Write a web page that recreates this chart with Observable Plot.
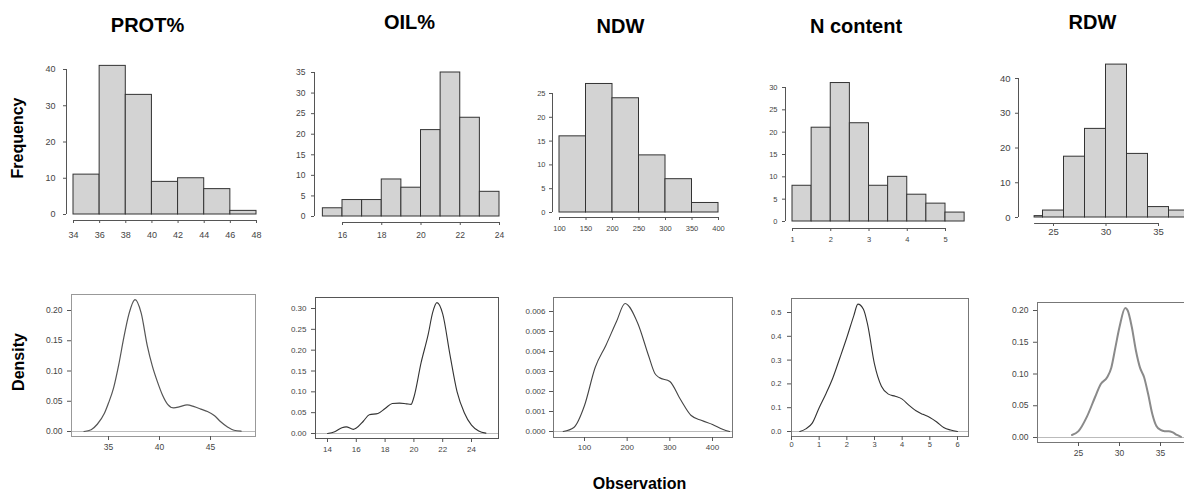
<!DOCTYPE html>
<html><head><meta charset="utf-8">
<script src="https://cdn.jsdelivr.net/npm/d3@7"></script>
<script src="https://cdn.jsdelivr.net/npm/@observablehq/plot@0.6"></script>
<style>
body{margin:0;background:#fff;}
#root{position:relative;width:1184px;height:491px;overflow:hidden;font-family:"Liberation Sans",Arial,sans-serif;background:#fff;}
.t{position:absolute;font-weight:bold;line-height:1;white-space:nowrap;color:#000;}
#root svg{position:absolute;overflow:visible;background:transparent;}
</style></head><body><div id="root"></div><script>
// ---------- titles ----------
const titles = ["PROT%", "OIL%", "NDW", "N content", "RDW"];
const rowLabels = ["Frequency", "Density"];
const xLabel = "Observation";

// ---------- histogram data (bin edges + counts) ----------
const protEdges = [34, 36, 38, 40, 42, 44, 46, 48];
const protCounts = [11, 41, 33, 9, 10, 7, 1];
const oilEdges = [15, 16, 17, 18, 19, 20, 21, 22, 23, 24];
const oilCounts = [2, 4, 4, 9, 7, 21, 35, 24, 6];
const ndwEdges = [100, 150, 200, 250, 300, 350, 400];
const ndwCounts = [16, 27, 24, 12, 7, 2];
const nEdges = [1, 1.5, 2, 2.5, 3, 3.5, 4, 4.5, 5, 5.5];
const nCounts = [8, 21, 31, 22, 8, 10, 6, 4, 2];
const rdwEdges = [23.2, 24, 26, 28, 30, 32, 34, 36, 38];
const rdwCounts = [0.4, 2, 17.5, 25.5, 44, 18.3, 3, 2];

// histogram tick labels
const protXTicks = [34, 36, 38, 40, 42, 44, 46, 48];
const protYTicks = [0, 10, 20, 30, 40];
const oilXTicks = [16, 18, 20, 22, 24];
const oilYTicks = [0, 5, 10, 15, 20, 25, 30, 35];
const ndwXTicks = [100, 150, 200, 250, 300, 350, 400];
const ndwYTicks = [0, 5, 10, 15, 20, 25];
const nXTicks = [1, 2, 3, 4, 5];
const nYTicks = [0, 5, 10, 15, 20, 25, 30];
const rdwXTicks = [25, 30, 35];
const rdwYTicks = [0, 10, 20, 30, 40];

// ---------- density curves ----------
const protDensX = [32.6,33.3,33.9,34.6,35.0,35.5,36.0,36.5,37.0,37.6,38.2,38.8,39.3,39.8,40.3,40.8,41.4,42.0,42.7,43.4,44.05,44.7,45.4,46.0,46.7,47.3,48.0];
const protDensY = [0.000,0.003,0.012,0.030,0.047,0.072,0.110,0.155,0.194,0.218,0.196,0.142,0.108,0.082,0.060,0.045,0.039,0.041,0.044,0.041,0.037,0.033,0.026,0.016,0.007,0.002,0.0006];
const oilDensX = [14,14.5,15,15.3,15.8,16,16.5,16.9,17.5,18,18.5,19,19.5,19.8,20,20.5,21,21.3,21.6,22,22.5,23,23.5,24,24.5,25];
const oilDensY = [0.000,0.004,0.014,0.016,0.010,0.013,0.030,0.045,0.048,0.060,0.072,0.073,0.071,0.070,0.087,0.170,0.239,0.290,0.314,0.287,0.190,0.100,0.050,0.020,0.006,0.001];
const ndwDensX = [50,75,100,125,150,175,195,225,250,265,275,300,325,350,375,400,425,440];
const ndwDensY = [0.0000,0.0002,0.0013,0.0032,0.0043,0.0055,0.0064,0.0054,0.0038,0.0029,0.0027,0.0025,0.0016,0.0008,0.00055,0.00035,0.0001,0.0000];
const nDensX = [0.3,0.5,0.75,1,1.25,1.5,1.75,2,2.25,2.4,2.6,2.75,3,3.25,3.5,3.75,4,4.25,4.5,4.75,5,5.25,5.5,5.75,6];
const nDensY = [0,0.01,0.035,0.10,0.16,0.227,0.31,0.395,0.486,0.535,0.514,0.45,0.283,0.19,0.157,0.148,0.136,0.11,0.087,0.072,0.059,0.040,0.017,0.006,0.0];
const rdwDensX = [24.2,25,26,27,27.7,28.5,29,29.5,30,30.7,31,31.5,32,32.5,33,33.5,34,34.5,35,35.5,36,36.5,37,37.5];
const rdwDensY = [0.004,0.01,0.032,0.063,0.084,0.095,0.11,0.142,0.174,0.204,0.2,0.174,0.137,0.11,0.095,0.068,0.037,0.018,0.012,0.01,0.01,0.008,0.004,0.001];

// density tick labels
const protDXTicks = [35, 40, 45];
const protDYTicks = [0, 0.05, 0.10, 0.15, 0.20];
const oilDXTicks = [14, 16, 18, 20, 22, 24];
const oilDYTicks = [0, 0.05, 0.10, 0.15, 0.20, 0.25, 0.30];
const ndwDXTicks = [100, 200, 300, 400];
const ndwDYTicks = [0, 0.001, 0.002, 0.003, 0.004, 0.005, 0.006];
const nDXTicks = [0, 1, 2, 3, 4, 5, 6];
const nDYTicks = [0, 0.1, 0.2, 0.3, 0.4, 0.5];
const rdwDXTicks = [25, 30, 35];
const rdwDYTicks = [0, 0.05, 0.10, 0.15, 0.20];

// ---------- layout ----------
const root = document.getElementById("root");
const FONT = '"Liberation Sans", Arial, sans-serif';
function lin(m, p) { const [[v1, p1], [v2, p2]] = m; return v1 + (p - p1) * (v2 - v1) / (p2 - p1); }
function put(node, left, top) { node.style.left = left + "px"; node.style.top = top + "px"; root.append(node); }

const histPanels = [
  {edges: protEdges, counts: protCounts, xt: protXTicks, yt: protYTicks, axisFrom: protXTicks[0], frame: [66, 60, 258, 220], xmap: [[34, 73], [48, 256]], ymap: [[0, 214], [40, 69]], fs: 9, xPad: 8, yPad: 8},
  {edges: oilEdges, counts: oilCounts, xt: oilXTicks, yt: oilYTicks, axisFrom: oilXTicks[0], frame: [314, 60, 502, 222], xmap: [[16, 342], [24, 499]], ymap: [[0, 216], [35, 72]], fs: 8.5, xPad: 6, yPad: 6},
  {edges: ndwEdges, counts: ndwCounts, xt: ndwXTicks, yt: ndwYTicks, axisFrom: ndwXTicks[0], frame: [552, 80, 722, 217], xmap: [[100, 559], [400, 718]], ymap: [[0, 212], [25, 93]], fs: 7.5, xPad: 5, yPad: 4},
  {edges: nEdges, counts: nCounts, xt: nXTicks, yt: nYTicks, axisFrom: nXTicks[0], frame: [785, 80, 968, 228], xmap: [[1, 792], [5, 945]], ymap: [[0, 221], [30, 87]], fs: 7.5, xPad: 5, yPad: 5},
  {edges: rdwEdges, counts: rdwCounts, xt: rdwXTicks, yt: rdwYTicks, axisFrom: rdwEdges[0], frame: [1018, 60, 1200, 223], xmap: [[25, 1053], [35, 1158]], ymap: [[0, 217], [40, 78]], fs: 9.5, xPad: 2, yPad: 5}
];

const densPanels = [
  {xs: protDensX, ys: protDensY, xt: protDXTicks, yt: protDYTicks, yf: ".2f", frame: [71, 294, 255, 436], xmap: [[35, 108], [45, 210]], ymap: [[0, 431], [0.2, 310]], fs: 8.5, xPad: 3, yPad: 5, color: "#555", sw: 1.2, box: "#999"},
  {xs: oilDensX, ys: oilDensY, xt: oilDXTicks, yt: oilDYTicks, yf: ".2f", frame: [315, 297, 498, 438], xmap: [[14, 327], [24, 471]], ymap: [[0, 433], [0.3, 308]], fs: 8, xPad: 4, yPad: 5, color: "#333", sw: 1.1, box: "#555"},
  {xs: ndwDensX, ys: ndwDensY, xt: ndwDXTicks, yt: ndwDYTicks, yf: ".3f", frame: [553, 297, 732, 437], xmap: [[100, 584], [400, 712]], ymap: [[0, 431], [0.006, 311]], fs: 8, xPad: 3, yPad: 4, color: "#444", sw: 1.1, box: "#777"},
  {xs: nDensX, ys: nDensY, xt: nDXTicks, yt: nDYTicks, yf: ".1f", frame: [791, 298, 968, 436], xmap: [[0, 791], [6, 957]], ymap: [[0, 431], [0.5, 312]], fs: 7.5, xPad: 1, yPad: 6, color: "#333", sw: 1.1, box: "#777"},
  {xs: rdwDensX, ys: rdwDensY, xt: rdwDXTicks, yt: rdwDYTicks, yf: ".2f", frame: [1037, 302, 1195, 442], xmap: [[25, 1078], [35, 1160]], ymap: [[0, 437], [0.2, 310]], fs: 8.5, xPad: 3, yPad: 5, color: "#8a8a8a", sw: 2, box: "#777"}
];

function frameOpts(c) {
  const [fx0, fy0, fx1, fy1] = c.frame;
  const L = fx0 - 50, T = fy0 - 10, W = fx1 - L + 10, H = fy1 - T + 30;
  return {L, T, W, H, fx0, fy0, fx1, fy1,
    xd: [lin(c.xmap, fx0), lin(c.xmap, fx1)],
    yd: [lin(c.ymap, fy1), lin(c.ymap, fy0)]};
}

for (const c of histPanels) {
  const f = frameOpts(c);
  const bins = c.counts.map((n, i) => ({x1: c.edges[i], x2: c.edges[i + 1], n}));
  const svg = Plot.plot({
    width: f.W, height: f.H,
    marginLeft: f.fx0 - f.L, marginRight: f.L + f.W - f.fx1,
    marginTop: f.fy0 - f.T, marginBottom: f.T + f.H - f.fy1,
    x: {domain: f.xd}, y: {domain: f.yd},
    style: {fontFamily: FONT, fontSize: c.fs + "px", background: "transparent", overflow: "visible"},
    marks: [
      Plot.rect(bins, {x1: "x1", x2: "x2", y1: 0, y2: "n", fill: "#d3d3d3", stroke: "#333", strokeWidth: 1}),
      Plot.ruleY([f.yd[0]], {x1: c.axisFrom, x2: c.xt[c.xt.length - 1], stroke: "#555"}),
      Plot.ruleX([f.xd[0]], {y1: c.yt[0], y2: c.yt[c.yt.length - 1], stroke: "#555"}),
      Plot.axisX({ticks: c.xt, tickSize: 3, tickPadding: c.xPad, label: null, stroke: "#555", fill: "#444", tickFormat: d => String(d)}),
      Plot.axisY({ticks: c.yt, tickSize: 3, tickPadding: c.yPad, label: null, stroke: "#555", fill: "#444", tickFormat: d => String(d)})
    ]
  });
  put(svg, f.L, f.T);
}

for (const c of densPanels) {
  const f = frameOpts(c);
  const pts = c.xs.map((x, i) => ({x, y: c.ys[i]}));
  const svg = Plot.plot({
    width: f.W, height: f.H,
    marginLeft: f.fx0 - f.L, marginRight: f.L + f.W - f.fx1,
    marginTop: f.fy0 - f.T, marginBottom: f.T + f.H - f.fy1,
    x: {domain: f.xd}, y: {domain: f.yd},
    style: {fontFamily: FONT, fontSize: c.fs + "px", background: "transparent", overflow: "visible"},
    marks: [
      Plot.ruleY([0], {stroke: "#bbb"}),
      Plot.line(pts, {x: "x", y: "y", stroke: c.color, strokeWidth: c.sw, curve: "monotone-x"}),
      Plot.frame({stroke: c.box}),
      Plot.axisX({ticks: c.xt, tickSize: 4, tickPadding: c.xPad, label: null, stroke: "#555", fill: "#444", tickFormat: d => String(d)}),
      Plot.axisY({ticks: c.yt, tickSize: 4, tickPadding: c.yPad, label: null, stroke: "#555", fill: "#444", tickFormat: d3.format(c.yf)})
    ]
  });
  put(svg, f.L, f.T);
}

// ---------- text ----------
function txt(s, size, css) {
  const d = document.createElement("div");
  d.className = "t"; d.textContent = s; d.style.fontSize = size + "px";
  Object.assign(d.style, css); root.append(d); return d;
}
const titleCenters = [[147.5, 15], [409.5, 12], [620.5, 16], [856, 16], [1092.5, 12]];
titles.forEach((s, i) => txt(s, 20, {left: titleCenters[i][0] + "px", top: titleCenters[i][1] + "px", transform: "translateX(-50%)"}));
txt(rowLabels[0], 16, {left: "17.5px", top: "138px", transform: "translate(-50%,-50%) rotate(-90deg)"});
txt(rowLabels[1], 16, {left: "18.5px", top: "362px", transform: "translate(-50%,-50%) rotate(-90deg)"});
txt(xLabel, 16, {left: "639.5px", top: "475.5px", transform: "translateX(-50%)"});
</script></body></html>
